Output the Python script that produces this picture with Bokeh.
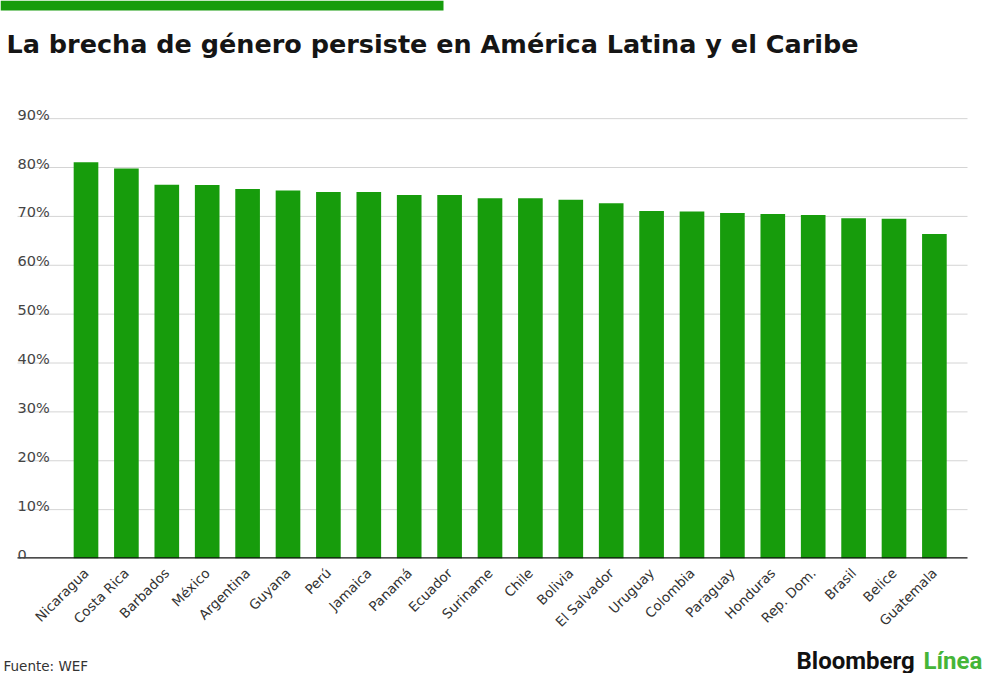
import math
from bokeh.plotting import figure
from bokeh.layouts import column
from bokeh.models import Range1d, FixedTicker, ColumnDataSource
from bokeh.core.properties import value
from bokeh.embed import file_html
from bokeh.resources import INLINE

# ---- data ----
countries = ["Nicaragua", "Costa Rica", "Barbados", "México", "Argentina", "Guyana",
             "Perú", "Jamaica", "Panamá", "Ecuador", "Suriname", "Chile", "Bolivia",
             "El Salvador", "Uruguay", "Colombia", "Paraguay", "Honduras", "Rep. Dom.",
             "Brasil", "Belice", "Guatemala"]
values = [81.1, 79.8, 76.5, 76.4, 75.6, 75.3, 75.0, 75.0, 74.4, 74.4, 73.7, 73.7,
          73.4, 72.7, 71.1, 71.0, 70.7, 70.5, 70.3, 69.6, 69.5, 66.4]
y_ticks = [0, 10, 20, 30, 40, 50, 60, 70, 80, 90]
y_tick_labels = ["0", "10%", "20%", "30%", "40%", "50%", "60%", "70%", "80%", "90%"]

title_text = "La brecha de género persiste en América Latina y el Caribe"
source_text = "Fuente: WEF"
brand_a = "Bloomberg"
brand_b = "Línea"

GREEN = "#179c0c"
FONT = "DejaVu Sans"
W = 984
H_HEAD, H_MAIN, H_FOOT = 74, 564, 35
PITCH = 40.4          # px per category
PAD_L, PAD_R = 17, 17  # px between canvas edge and gridlines


def blank(fig):
    fig.xaxis.visible = False
    fig.yaxis.visible = False
    fig.xgrid.visible = False
    fig.ygrid.visible = False
    fig.outline_line_color = None
    fig.min_border = 0


# ---- header (green strip + title) ----
head = figure(width=W, height=H_HEAD, output_backend="svg", toolbar_location=None,
              title=None, x_range=Range1d(0, W), y_range=Range1d(H_HEAD, 0),
              x_axis_location=None, y_axis_location=None)
blank(head)
head.quad(left=[0], right=[443], top=[0], bottom=[10], fill_color=GREEN, line_color=None)
head.text(x=[6], y=[43], text=[title_text], text_font=value(FONT),
          text_font_style="bold", text_font_size="25.5px", text_color="#151515",
          text_baseline="alphabetic", text_align="left")

# ---- main chart ----
x_start = -85.5 / PITCH
x_end = x_start + W / PITCH
g_left = x_start + PAD_L / PITCH
g_right = x_end - PAD_R / PITCH

p = figure(width=W, height=H_MAIN, output_backend="svg", toolbar_location=None,
           title=None, x_range=Range1d(x_start, x_end), y_range=Range1d(0, 95.76),
           y_axis_location=None, min_border_left=0, min_border_right=0,
           min_border_top=16, min_border_bottom=74)
p.outline_line_color = None
p.xgrid.visible = False
p.ygrid.visible = False

grid_y = y_ticks[1:]
p.segment(x0=[g_left] * len(grid_y), x1=[g_right] * len(grid_y), y0=grid_y, y1=grid_y,
          line_color="#d4d4d4", line_width=1)

idx = list(range(len(countries)))
src = ColumnDataSource(dict(x=idx, top=values, name=countries))
p.vbar(x="x", top="top", bottom=0, width=0.61, source=src,
       fill_color=GREEN, line_color=None)

ax = p.xaxis[0]
ax.ticker = FixedTicker(ticks=idx)
ax.major_label_overrides = {i: c for i, c in zip(idx, countries)}
ax.major_label_orientation = math.pi / 4
ax.major_label_text_font = FONT
ax.major_label_text_font_size = "13.5px"
ax.major_label_text_color = "#333333"
ax.major_label_standoff = 6
ax.axis_line_color = None
ax.major_tick_line_color = None
ax.minor_tick_line_color = None

# baseline (axis line) spanning the gridline extent
p.segment(x0=[g_left], x1=[g_right], y0=[0], y1=[0], line_color="#111111", line_width=2.5)

ysrc = ColumnDataSource(dict(x=[g_left] * len(y_ticks), y=y_ticks, t=y_tick_labels))
p.text(x="x", y="y", text="t", source=ysrc, y_offset=-4,
       text_baseline="alphabetic", text_align="left",
       text_font=value(FONT), text_font_size="14.5px", text_color="#444444")

# ---- footer ----
foot = figure(width=W, height=H_FOOT, output_backend="svg", toolbar_location=None,
              title=None, x_range=Range1d(0, W), y_range=Range1d(H_FOOT, 0),
              x_axis_location=None, y_axis_location=None)
blank(foot)
foot.text(x=[3], y=[27], text=[source_text], text_font=value(FONT),
          text_font_size="13.5px", text_color="#333333",
          text_baseline="alphabetic", text_align="left")
foot.text(x=[796], y=[22], text=[brand_a], text_font=value("Roboto"),
          text_font_style="bold", text_font_size="24px", text_color="#111111",
          text_baseline="alphabetic", text_align="left")
foot.text(x=[923], y=[22], text=[brand_b], text_font=value("Roboto"),
          text_font_style="bold", text_font_size="24px", text_color="#45b538",
          text_baseline="alphabetic", text_align="left")

layout = column(head, p, foot, spacing=0)
open("out.html", "w").write(file_html(layout, INLINE))
